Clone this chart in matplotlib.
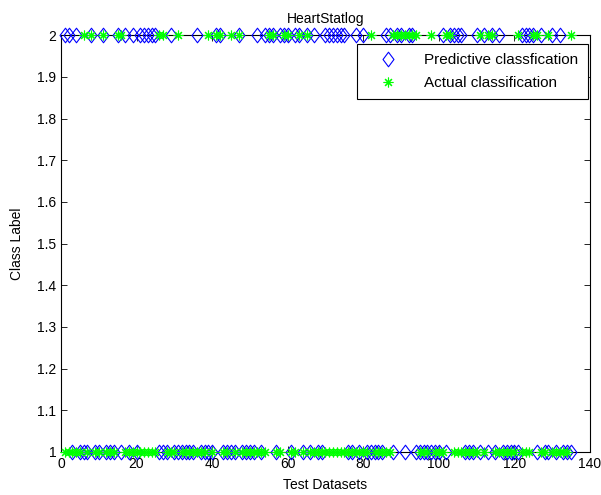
import numpy as np
import matplotlib
matplotlib.use("Agg")
import matplotlib.pyplot as plt
from matplotlib.path import Path

plt.rcParams['font.family'] = ['Liberation Sans', 'DejaVu Sans']

# test samples 1..135, class labels are 1 or 2
n_test = 135
pred_class2 = [1, 2, 4, 8, 11, 15, 17, 19, 21, 22, 23, 24, 25, 29, 36, 41, 42, 47,
               52, 54, 55, 56, 58, 59, 60, 62, 63, 65, 67, 70, 71, 72, 73, 74, 75,
               78, 80, 86, 87, 89, 90, 92, 93, 101, 103, 104, 105, 106, 110, 112,
               114, 116, 122, 123, 124, 125, 127, 130, 132]
# indices where the actual class is 2 (top row of stars)
actual_class2 = [6, 8, 11, 15, 16, 26, 27, 31, 39, 41, 42, 45, 47, 55, 56, 59, 60,
                 63, 65, 82, 88, 89, 90, 91, 92, 93, 94, 98, 102, 103, 111, 113,
                 114, 121, 125, 126, 129, 135]

x = np.arange(1, n_test + 1)
predicted = np.where(np.isin(x, pred_class2), 2, 1)
actual = np.where(np.isin(x, actual_class2), 2, 1)

# matlab-style diamond, a bit wider than matplotlib's thin 'd'
diamond = Path([(0, 1), (0.75, 0), (0, -1), (-0.75, 0), (0, 1)],
               [Path.MOVETO, Path.LINETO, Path.LINETO, Path.LINETO, Path.CLOSEPOLY])

fig = plt.figure(figsize=(6.01, 4.95), dpi=100)
ax = fig.add_axes([0.1015, 0.087, 0.880, 0.842])

ax.plot(x, predicted, linestyle='none', marker=diamond, markersize=10.5,
        markerfacecolor='none', markeredgecolor='b', markeredgewidth=0.8,
        label='Predictive classfication', clip_on=False, zorder=3)
ax.plot(x, actual, linestyle='none', marker=(8, 2, 0), markersize=7,
        markeredgecolor=(0, 1, 0), markeredgewidth=0.8,
        label='Actual classification', clip_on=False, zorder=4)

ax.set_xlim(0, 140)
ax.set_ylim(1, 2)
ax.set_xticks(np.arange(0, 141, 20))
ax.set_yticks(np.arange(1, 2.01, 0.1))
ax.set_yticklabels(['1', '1.1', '1.2', '1.3', '1.4', '1.5', '1.6', '1.7', '1.8', '1.9', '2'])
ax.tick_params(direction='in', top=True, right=True, labelsize=10, length=4, width=0.6)
for s in ax.spines.values():
    s.set_linewidth(0.8)

ax.set_xlabel('Test Datasets', fontsize=10, labelpad=5)
ax.set_ylabel('Class Label', fontsize=10, labelpad=9)
ax.set_title('HeartStatlog', fontsize=10, pad=9)

leg = ax.legend(loc='upper right', bbox_to_anchor=(0.996, 0.978), fontsize=11,
                fancybox=False, framealpha=1, edgecolor='k', borderpad=0.6,
                handletextpad=1.0, labelspacing=0.55, handlelength=2.8,
                borderaxespad=0)
leg.get_frame().set_linewidth(0.8)

fig.savefig('out.png', dpi=100)
